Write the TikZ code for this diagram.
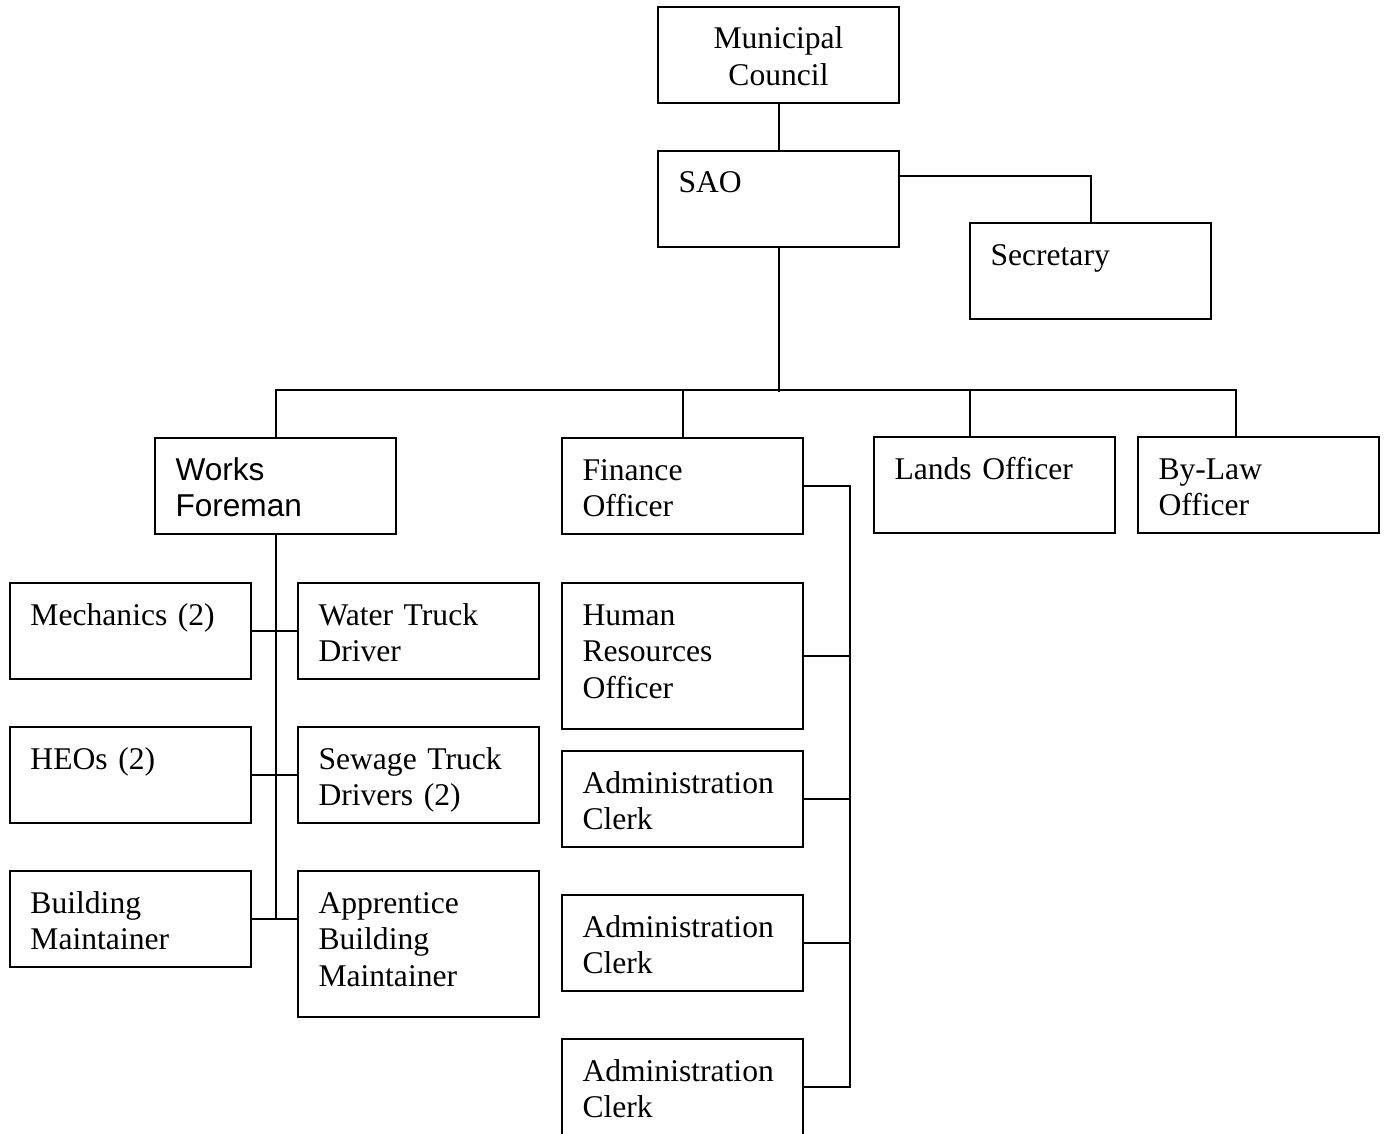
\documentclass[tikz,border=0pt]{standalone}
\usepackage{fontspec}
\setmainfont{Liberation Serif}
\setsansfont{Liberation Sans}
\tikzset{
  unit/.style={draw=black, line width=1pt, anchor=north west, align=left, text width=100pt, inner xsep=10.25pt, inner ysep=0pt, outer sep=0pt, text height=21pt, text depth=27pt, font=\fontsize{15.8}{18.4}\selectfont},
  tallunit/.style={unit, text depth=52pt},
  link/.style={draw=black, line width=1pt}
}
\begin{document}
\begin{tikzpicture}[x=0.5pt, y=-0.5pt]
  \clip (0,0) rectangle (1386,1134);
  % top of the chart
  \node[unit, align=center] (council) at (658,7) {Municipal\\Council};
  \node[unit] (sao) at (658,151) {SAO};
  \node[unit] (secretary) at (970,223) {Secretary};

  % officers
  \node[unit] (works) at (155,438) {\sffamily Works\\Foreman};
  \node[unit] (finance) at (562,438) {Finance\\Officer};
  \node[unit] (lands) at (874,437) {Lands Officer};
  \node[unit] (bylaw) at (1138,437) {By-Law\\Officer};

  % works staff
  \node[unit] (mech) at (10,583) {Mechanics (2)};
  \node[unit] (water) at (298,583) {Water Truck\\Driver};
  \node[unit] (heo) at (10,727) {HEOs (2)};
  \node[unit] (sewage) at (298,727) {Sewage Truck\\Drivers (2)};
  \node[unit] (bldg) at (10,871) {Building\\Maintainer};
  \node[tallunit] (appr) at (298,871) {Apprentice\\Building\\Maintainer};

  % finance staff
  \node[tallunit] (hr) at (562,583) {Human\\Resources\\Officer};
  \node[unit] (clerka) at (562,751) {Administration\\Clerk};
  \node[unit] (clerkb) at (562,895) {Administration\\Clerk};
  \node[unit] (clerkc) at (562,1039) {Administration\\Clerk};

  \draw[link] (council.south) -- (sao.north);
  \draw[link] ([yshift=-12.5pt]sao.north east) -| (secretary.north);
  \draw[link] (sao.south) -- ++(0,145);
  \draw[link] (works.north) -- ++(0,-48) -| ([xshift=-11.5pt]bylaw.north);
  \draw[link] (finance.north) -- ++(0,-48);
  \draw[link] ([xshift=-12.25pt]lands.north) -- ++(0,-48);

  \draw[link] (works.south) -- (works.south |- bldg.east);
  \foreach \a/\b in {mech/water, heo/sewage}
    \draw[link] (\a.east) -- (\b.west);
  \draw[link] (bldg.east) -- (bldg.east -| appr.west);

  \draw[link] (finance.east) -- ++(47,0) |- (clerkc.east);
  \foreach \n in {hr, clerka, clerkb}
    \draw[link] (\n.east) -- ++(47,0);
\end{tikzpicture}
\end{document}
